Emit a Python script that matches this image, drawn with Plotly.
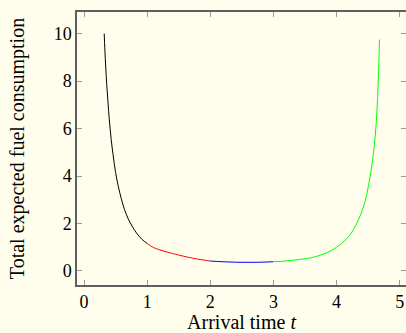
import plotly.graph_objects as go

# Data
t_black = [0.32, 0.33, 0.345, 0.36, 0.38, 0.40, 0.43, 0.46, 0.50, 0.54, 0.59, 0.64, 0.70, 0.77, 0.84, 0.92, 1.00]
v_black = [10.0, 9.35, 8.55, 7.85, 7.1, 6.4, 5.55, 4.9, 4.15, 3.6, 3.05, 2.6, 2.2, 1.85, 1.57, 1.33, 1.16]

t_red = [1.00, 1.10, 1.20, 1.30, 1.40, 1.50, 1.65, 1.80, 1.90, 2.00]
v_red = [1.16, 0.99, 0.89, 0.81, 0.74, 0.67, 0.58, 0.50, 0.46, 0.42]

t_blue = [2.00, 2.20, 2.40, 2.60, 2.80, 3.00]
v_blue = [0.42, 0.39, 0.37, 0.365, 0.37, 0.39]

t_green = [3.00, 3.20, 3.40, 3.60, 3.70, 3.80, 3.90, 4.00, 4.10, 4.20, 4.28, 4.35, 4.42, 4.48,
           4.53, 4.57, 4.60, 4.63, 4.65, 4.665, 4.68]
v_green = [0.39, 0.42, 0.48, 0.56, 0.63, 0.72, 0.84, 1.00, 1.20, 1.48, 1.80, 2.18, 2.65, 3.25,
           3.95, 4.65, 5.35, 6.30, 7.30, 8.40, 9.75]

x_ticks = [0, 1, 2, 3, 4, 5]
y_ticks = [0, 2, 4, 6, 8, 10]

BG = "#fffdeb"
FONT = "Liberation Serif"
AXIS = "#5e5e5e"
TICK = "#9a9a9a"

fig = go.Figure()
for tx, vy, col in [(t_black, v_black, "black"), (t_red, v_red, "#ff0000"),
                    (t_blue, v_blue, "#0000ff"), (t_green, v_green, "#00ff00")]:
    fig.add_trace(go.Scatter(x=tx, y=vy, mode="lines",
                             line=dict(color=col, width=1, shape="spline", smoothing=1.0),
                             showlegend=False, hoverinfo="skip"))
# invisible trace for the mirrored tick axes
fig.add_trace(go.Scatter(x=[1], y=[1], xaxis="x2", yaxis="y2", mode="markers",
                         marker=dict(opacity=0), showlegend=False, hoverinfo="skip"))

xr = [-0.111, 5.10]
yr = [-0.59, 10.91]

fig.update_layout(
    width=406, height=333,
    margin=dict(l=77, r=0, t=12, b=48),
    paper_bgcolor=BG, plot_bgcolor=BG,
    font=dict(family=FONT, size=18, color="black"),
    xaxis=dict(range=xr, tickvals=x_ticks, ticks="inside", ticklen=5, tickcolor=TICK,
               tickwidth=1, showline=True, linecolor=AXIS, linewidth=1.5,
               showgrid=False, zeroline=False,
               title=dict(text="Arrival time <i>t</i>", font=dict(size=20), standoff=3)),
    yaxis=dict(range=yr, tickvals=y_ticks, ticks="inside", ticklen=5, tickcolor=TICK,
               tickwidth=1, showline=True, linecolor=AXIS, linewidth=1.5,
               showgrid=False, zeroline=False,
               title=dict(text="Total expected fuel consumption", font=dict(size=20), standoff=24)),
    xaxis2=dict(range=xr, overlaying="x", side="top", tickvals=x_ticks, ticks="inside",
                ticklen=5, tickcolor=TICK, tickwidth=1, showticklabels=False,
                showline=True, linecolor=AXIS, linewidth=1.5, showgrid=False, zeroline=False),
    yaxis2=dict(range=yr, overlaying="y", side="right", tickvals=y_ticks, ticks="inside",
                ticklen=5, tickcolor=TICK, tickwidth=1, showticklabels=False,
                showline=False, showgrid=False, zeroline=False),
)

fig.write_html("out.html")
